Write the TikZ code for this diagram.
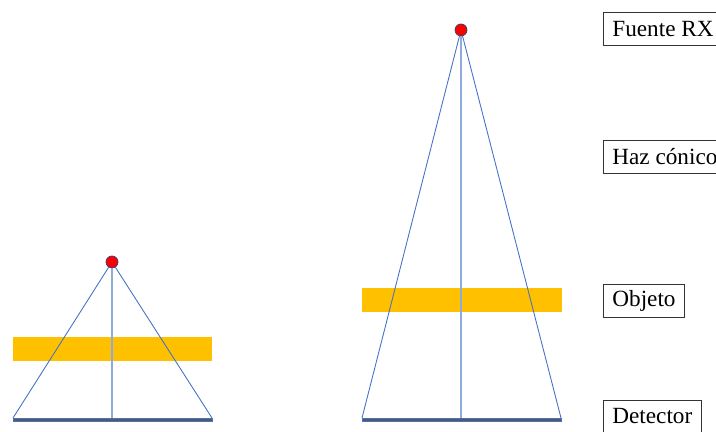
\documentclass[tikz,border=0pt]{standalone}
\usepackage{fontspec}
\setmainfont{Liberation Serif}
\usepackage{tikz}
\usetikzlibrary{positioning}
\definecolor{rayblue}{RGB}{68,114,196}
\definecolor{axisblue}{RGB}{143,170,220}
\definecolor{objorange}{RGB}{255,192,0}
\definecolor{detgray}{RGB}{89,89,89}

\begin{document}
\begin{tikzpicture}[
    ray/.style={draw=rayblue, line width=0.5pt},
    axis/.style={draw=axisblue, line width=0.8pt},
    obj/.style={fill=objorange, draw=none},
    detbar/.style={draw=rayblue, fill=detgray, line width=0.4pt},
    src/.style={circle, fill=red, draw=rayblue!60!black, line width=0.4pt, inner sep=0pt, minimum size=0.24cm},
    lbl/.style={draw=black!80, line width=0.5pt, anchor=west, font=\fontsize{13.2}{15}\selectfont, inner xsep=0.18cm, minimum height=0.66cm}
]
\useasboundingbox (0,0) rectangle (14.32,8.64);
\clip (0,0) rectangle (14.32,8.64);

% small geometry
\fill[obj] (0.26,1.42) rectangle (4.24,1.90);
\coordinate (detAl) at (0.26,0.28);
\coordinate (detAr) at (4.24,0.28);
\coordinate (detAm) at (2.24,0.28);
\draw[detbar] (0.26,0.22) rectangle (4.24,0.28);
\node[src] (srcA) at (2.24,3.40) {};
\draw[ray] (srcA) -- (detAl);
\draw[ray] (srcA) -- (detAr);
\draw[axis] (srcA) -- (detAm);

% large geometry
\fill[obj] (7.24,2.40) rectangle (11.24,2.88);
\coordinate (detBl) at (7.24,0.28);
\coordinate (detBr) at (11.22,0.28);
\coordinate (detBm) at (9.22,0.28);
\draw[detbar] (7.24,0.22) rectangle (11.22,0.28);
\node[src] (srcB) at (9.22,8.04) {};
\draw[ray] (srcB) -- (detBl);
\draw[ray] (srcB) -- (detBr);
\draw[axis] (srcB) -- (detBm);

% labels
\node[lbl] (fuente) at (12.06,8.06) {Fuente RX};
\node[lbl] (haz) at (12.06,5.51) {Haz cónico};
\node[lbl] (objeto) at (12.06,2.63) {Objeto};
\node[lbl] (detector) at (12.06,0.31) {Detector};
\end{tikzpicture}
\end{document}
